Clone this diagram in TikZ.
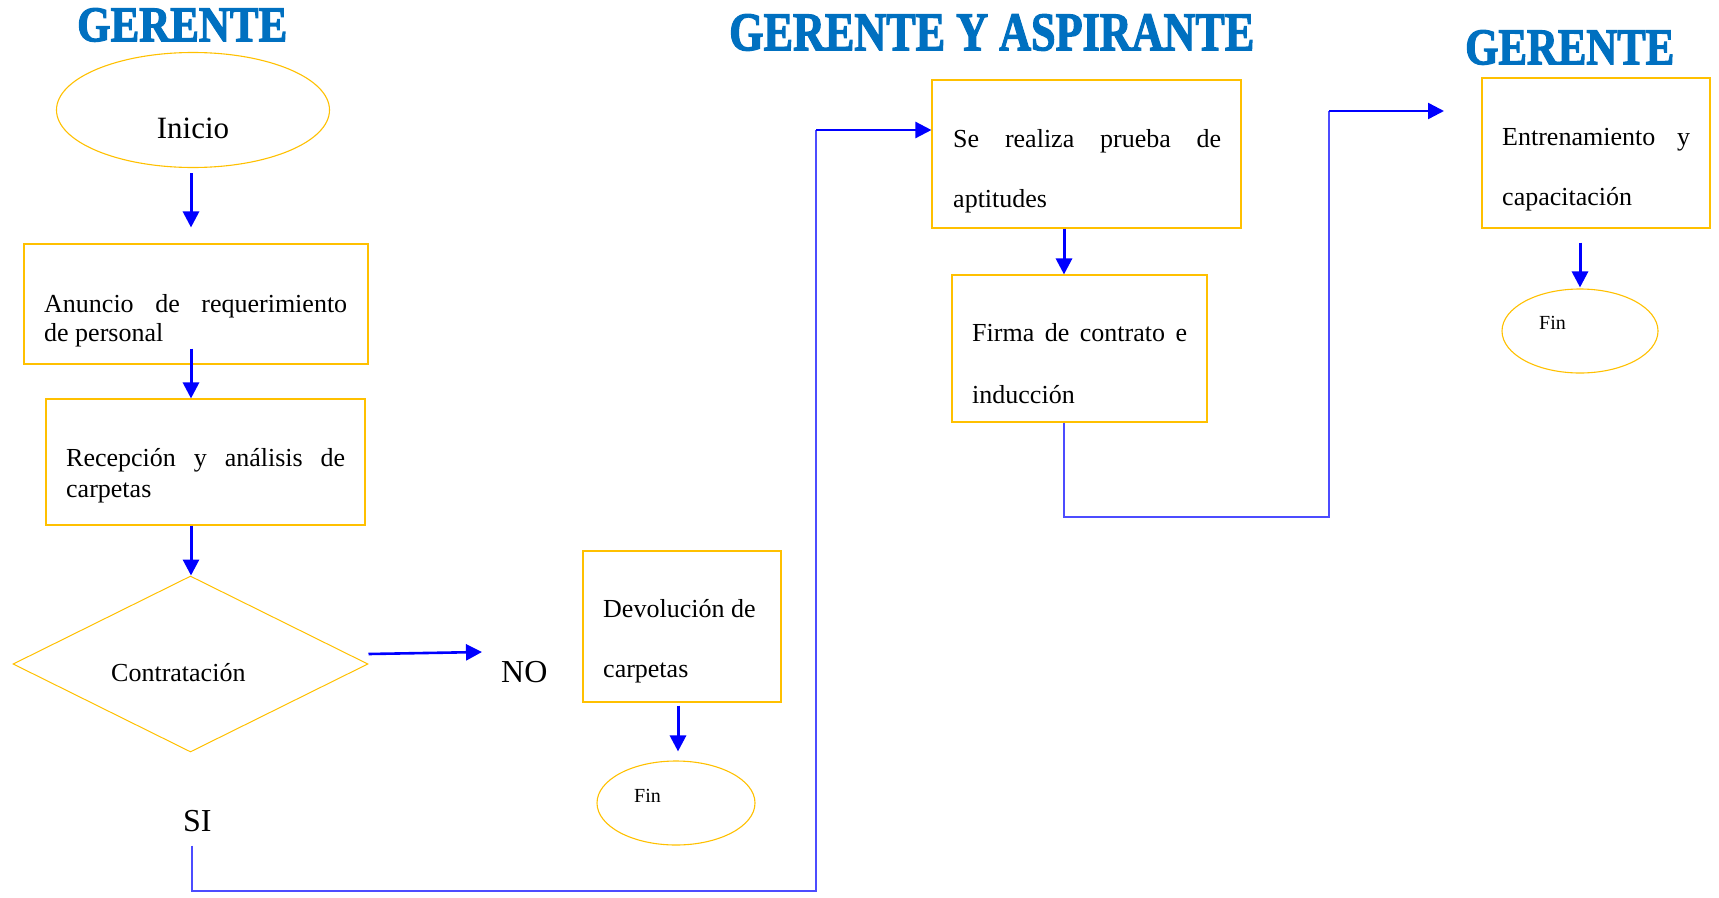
\documentclass[tikz,border=0pt]{standalone}
\usepackage{fontspec}
\setmainfont{Liberation Serif}
\newfontfamily\titlefont[FakeBold=2.5]{Liberation Serif Bold}
\usepackage{graphicx}
\usetikzlibrary{arrows.meta,shapes.geometric}
\definecolor{boxy}{HTML}{FFC000}
\definecolor{ttl}{HTML}{0070C0}
\definecolor{lnk}{HTML}{0000FF}
\tikzset{
 box/.style={draw=boxy, line width=1.1pt, rectangle, inner sep=0pt},
 ovl/.style={draw=boxy, line width=1.1pt, ellipse, inner sep=0pt},
 dia/.style={draw=boxy, line width=1pt, diamond, aspect=2, inner sep=0pt},
 txt/.style={inner sep=0pt, anchor=base west, font=\fontsize{26}{30}\selectfont},
 big/.style={inner sep=0pt, anchor=base west, font=\fontsize{32}{36}\selectfont},
 small/.style={inner sep=0pt, anchor=base west, font=\fontsize{20}{24}\selectfont},
 ttlnode/.style={inner sep=0pt, anchor=north west, text=ttl, font=\titlefont},
 arr/.style={draw=lnk, line width=3pt, -{Triangle[width=16pt,length=16pt]}},
 thinlink/.style={draw=lnk!70, line width=1.4pt},
}
\begin{document}
\begin{tikzpicture}[x=1pt,y=-1pt]
\useasboundingbox (0,0) rectangle (1719,897);
% titles
\node[ttlnode] (h1) at (77,8) {\resizebox{210pt}{33pt}{GERENTE}};
\node[ttlnode] (h2) at (729,14) {\resizebox{525pt}{36pt}{GERENTE Y ASPIRANTE}};
\node[ttlnode] (h3) at (1465,30) {\resizebox{209pt}{34pt}{GERENTE}};
% shapes
\node[ovl, minimum width=273pt, minimum height=115pt] (inicio) at (193,110) {};
\node[box, minimum width=344pt, minimum height=120pt] (b1) at (196,304) {};
\node[box, minimum width=319pt, minimum height=126pt] (b2) at (205.5,462) {};
\node[dia, minimum width=355pt, minimum height=176pt] (dia) at (190.5,664) {};
\node[box, minimum width=198pt, minimum height=151pt] (dev) at (682,626.5) {};
\node[ovl, minimum width=158pt, minimum height=84pt] (fin1) at (676,803) {};
\node[box, minimum width=309pt, minimum height=148pt] (se) at (1086.5,154) {};
\node[box, minimum width=255pt, minimum height=147pt] (firma) at (1079.5,348.5) {};
\node[box, minimum width=228pt, minimum height=150pt] (entr) at (1596,153) {};
\node[ovl, minimum width=156pt, minimum height=84pt] (fin2) at (1580,331) {};
% texts
\node[inner sep=0pt, anchor=base, font=\fontsize{31}{35}\selectfont] (tini) at (193,138) {Inicio};
\node[txt] (t1a) at (44,312) {\makebox[303pt][s]{Anuncio de requerimiento}};
\node[txt] (t1b) at (44,341) {de personal};
\node[txt] (t2a) at (66,466) {\makebox[279pt][s]{Recepción y análisis de}};
\node[txt] (t2b) at (66,497) {carpetas};
\node[txt] (tc) at (111,681) {Contratación};
\node[big] (no) at (501,682) {NO};
\node[big] (si) at (183,831) {SI};
\node[txt] (td1) at (603,617) {Devolución de};
\node[txt] (td2) at (603,677) {carpetas};
\node[small] (tf1) at (634,802) {Fin};
\node[txt] (ts1) at (953,147) {\makebox[268pt][s]{Se realiza prueba de}};
\node[txt] (ts2) at (953,207) {aptitudes};
\node[txt] (tfi1) at (972,341) {\makebox[215pt][s]{Firma de contrato e}};
\node[txt] (tfi2) at (972,403) {inducción};
\node[txt] (te1) at (1502,145) {\makebox[188pt][s]{Entrenamiento y}};
\node[txt] (te2) at (1502,205) {capacitación};
\node[small] (tf2) at (1539,329) {Fin};
% helper coordinates
\coordinate (colL) at (191,0);
\coordinate (colD) at (678,0);
\coordinate (colS) at (1064,0);
\coordinate (noend) at (482,652);
\coordinate (c1) at (192,891);
\coordinate (c2) at (816,891);
\coordinate (c3) at (816,130);
\coordinate (c4) at (1064,517);
\coordinate (c5) at (1329,517);
\coordinate (c6) at (1329,111);
\coordinate (c7) at (1444,111);
% arrows
\draw[arr, shorten <=5pt, shorten >=16pt] (inicio.south -| colL) -- (b1.north -| colL);
\draw[arr, shorten <=-16pt] (b1.south -| colL) -- (b2.north -| colL);
\draw[arr] (b2.south -| colL) -- (dia.north -| colL);
\draw[arr, line width=2.6pt] ([yshift=10pt]dia.east) -- (noend);
\draw[arr, shorten <=3pt, shorten >=9pt] (dev.south -| colD) -- (fin1.north -| colD);
\draw[arr] (se.south -| colS) -- (firma.north -| colS);
\draw[arr, shorten <=14pt, shorten >=1pt] (entr.south -| fin2.north) -- (fin2.north);
% long connectors
\draw[thinlink, shorten <=14pt] (si.south -| c1) -- (c1) -- (c2) -- (c3);
\draw[arr, line width=2.4pt] (c3) -- (se.west |- c3);
\draw[thinlink] (firma.south -| c4) -- (c4) -- (c5) -- (c6);
\draw[arr, line width=2.4pt] (c6) -- (c7);
\end{tikzpicture}
\end{document}
